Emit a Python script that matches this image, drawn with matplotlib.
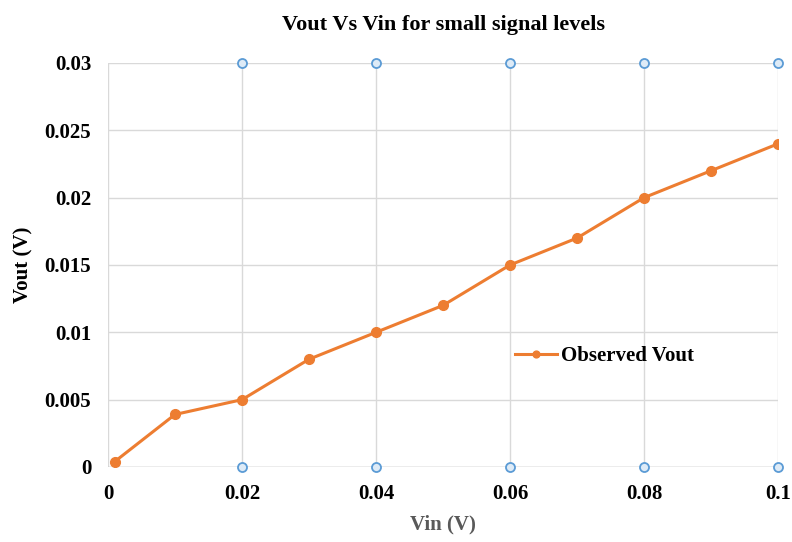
import matplotlib
matplotlib.use("Agg")
import matplotlib.pyplot as plt

vin = [0.001, 0.01, 0.02, 0.03, 0.04, 0.05, 0.06, 0.07, 0.08, 0.09, 0.1]
vout = [0.0004, 0.0039, 0.005, 0.008, 0.010, 0.012, 0.015, 0.017, 0.020, 0.022, 0.024]

ref_x = [0.02, 0.04, 0.06, 0.08, 0.1]
ref_top = [0.03, 0.03, 0.03, 0.03, 0.03]
ref_bot = [0.0, 0.0, 0.0, 0.0, 0.0]

xticks = [0, 0.02, 0.04, 0.06, 0.08, 0.1]
xticklabels = ["0", "0.02", "0.04", "0.06", "0.08", "0.1"]
yticks = [0, 0.005, 0.01, 0.015, 0.02, 0.025, 0.03]
yticklabels = ["0", "0.005", "0.01", "0.015", "0.02", "0.025", "0.03"]

plt.rcParams['font.family'] = ['Liberation Serif', 'DejaVu Serif']

fig = plt.figure(figsize=(7.92, 5.42), dpi=100)
ax = fig.add_axes([108/792, 1-467/542, (778-108)/792, (467-63)/542])

ax.plot(vin, vout, color='#ED7D31', lw=2.2, marker='o', ms=7, label='Observed Vout', zorder=4)
for ys in (ref_top, ref_bot):
    ax.plot(ref_x, ys, ls='none', marker='o', ms=6.5, mfc='#DEEBF7', mec='#5B9BD5', mew=1.3,
            zorder=5, clip_on=False)

ax.set_xlim(0, 0.1)
ax.set_ylim(0, 0.03)
ax.set_xticks(xticks)
ax.set_xticklabels(xticklabels)
ax.set_yticks(yticks)
ax.set_yticklabels(yticklabels)
ax.grid(True, color='#D9D9D9', lw=1)
ax.set_axisbelow(True)
for s in ax.spines.values():
    s.set_visible(False)
ax.axhline(0, color='#BFBFBF', lw=1, zorder=1)
ax.tick_params(length=0, labelsize=15, pad=12)
for lab in ax.get_xticklabels() + ax.get_yticklabels():
    lab.set_fontweight('bold')

ax.set_title('Vout Vs Vin for small signal levels', fontsize=16, fontweight='bold', pad=24)
ax.set_xlabel('Vin (V)', fontsize=15, fontweight='bold', color='#595959', labelpad=8)
ax.set_ylabel('Vout (V)', fontsize=15, fontweight='bold', labelpad=8)

leg = ax.legend(loc='upper left', bbox_to_anchor=(0.58, 0.345), frameon=False,
                prop={'size': 15, 'weight': 'bold'}, handlelength=2.0, handletextpad=0.2,
                markerscale=0.7)

fig.savefig('out.png', dpi=100)
